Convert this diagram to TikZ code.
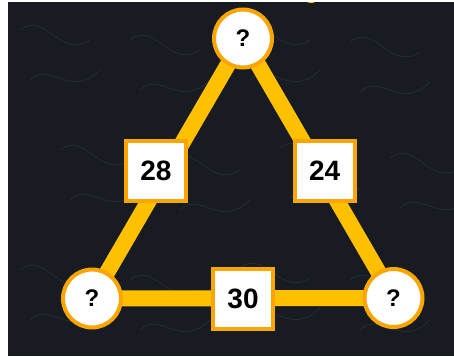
\documentclass[tikz,border=0pt]{standalone}
\usepackage{fontspec}
\setmainfont{Liberation Sans}
\definecolor{bgdark}{RGB}{24,27,34}
\definecolor{bgsheen}{RGB}{48,54,66}
\definecolor{edgeyellow}{RGB}{255,192,0}
\definecolor{rimorange}{RGB}{250,165,0}
\pgfdeclarelayer{back}
\pgfsetlayers{back,main}
\tikzset{
  edgeline/.style={draw=edgeyellow, line width=16pt},
  qcircle/.style={circle, draw=rimorange, line width=4pt, fill=white, minimum size=58pt, inner sep=0pt, font=\fontsize{24}{24}\selectfont\bfseries},
  numbox/.style={rectangle, draw=rimorange, line width=4pt, fill=white, minimum width=60pt, minimum height=60pt, inner sep=0pt, font=\fontsize{28}{28}\selectfont\bfseries},
  sheen/.style={draw=bgsheen, line width=0.8pt, opacity=0.6}
}
\begin{document}
\begin{tikzpicture}[x=1pt,y=-1pt]
\useasboundingbox (0,0) rectangle (454,356);
\begin{pgfonlayer}{back}
\fill[white] (0,0) rectangle (454,356);
\fill[bgdark] (8,2) rectangle (454,356);
\begin{scope}
\clip (8,2) rectangle (454,356);
\foreach \dx/\dy in {0/0,110/10,220/0,330/12,40/120,150/130,260/118,370/128,0/240,110/250,220/238,330/250}{
  \draw[sheen] (20+\dx,30+\dy) .. controls (45+\dx,10+\dy) and (60+\dx,60+\dy) .. (90+\dx,40+\dy);
  \draw[sheen] (30+\dx,80+\dy) .. controls (50+\dx,60+\dy) and (70+\dx,100+\dy) .. (100+\dx,70+\dy);
}
\end{scope}
\fill[edgeyellow] (311,-1) ellipse (6 and 4);
\fill[white] (0,0) rectangle (454,2);
\end{pgfonlayer}
\node[qcircle] (top) at (243,38.5) {?};
\node[qcircle] (bl) at (92,298.5) {?};
\node[qcircle] (br) at (393.5,298) {?};
\node[numbox] (n28) at (156,170.7) {28};
\node[numbox] (n24) at (324.7,170.7) {24};
\node[numbox] (n30) at (243,298.5) {30};
\begin{pgfonlayer}{back}
\draw[edgeline] (top.center) -- (bl.center);
\draw[edgeline] (top.center) -- (br.center);
\draw[edgeline] (bl.center) -- (br.center);
\end{pgfonlayer}
\end{tikzpicture}
\end{document}
